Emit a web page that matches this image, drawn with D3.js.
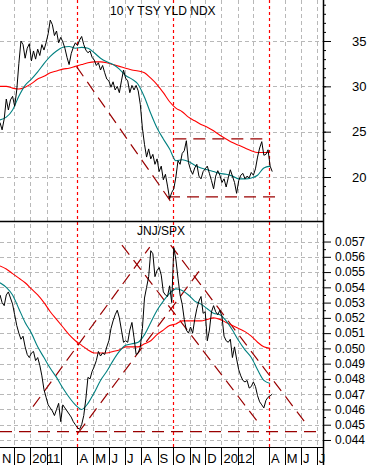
<!DOCTYPE html>
<html>
<head>
<meta charset="utf-8">
<script src="https://cdnjs.cloudflare.com/ajax/libs/d3/7.8.5/d3.min.js"></script>
<style>
body { margin: 0; background: #fff; }
text { font-family: "Liberation Sans", Arial, sans-serif; fill: #000; }
</style>
</head>
<body>
<div id="chart"></div>
<script>
// sampling: closes every 4 days, moving averages every 12 days, from startDate
var startDate = "2010-11-04";
var priceStepDays = 4;
var maStepDays = 12;

// 10 Y TSY YLD NDX
var yldClose = [26.0,25.2,26.4,28.6,27.4,28.5,28.9,27.8,29.6,32.5,
  35.0,34.6,33.1,34.2,34.7,32.8,33.9,33.0,34.1,33.4,
  34.6,34.0,34.8,35.8,37.3,36.8,35.6,36.1,34.8,35.4,
  34.9,34.2,33.2,32.4,33.6,34.3,34.8,34.5,35.1,35.5,
  34.6,34.0,33.7,33.9,33.2,32.9,32.3,32.6,31.8,32.3,
  31.5,30.8,30.6,29.9,30.5,29.6,30.0,29.3,30.6,31.8,
  30.9,30.6,29.3,30.1,29.6,30.1,29.5,28.0,25.4,23.6,
  22.2,23.1,22.0,22.5,21.4,22.0,20.6,21.2,19.7,20.3,
  19.0,17.6,18.3,18.7,20.0,21.8,21.4,22.6,22.9,24.0,
  21.6,20.8,20.3,21.0,21.4,20.1,19.8,20.6,20.9,21.2,
  20.4,19.6,18.7,20.1,20.7,20.2,19.4,19.8,18.9,19.9,
  20.8,20.1,19.4,18.2,19.6,20.2,20.4,19.8,20.1,19.9,
  20.5,20.2,20.9,22.2,23.2,23.9,22.4,22.5,23.0,21.2,20.6];
var yldMa50 = [26.3,26.6,27.4,28.9,30.1,30.8,31.6,32.5,33.3,33.9,
  34.3,34.4,34.2,34.3,34.2,33.7,33.1,32.7,32.4,31.9,
  31.2,30.8,30.2,28.8,27.0,25.4,24.2,23.1,21.8,21.9,
  21.7,21.3,21.0,20.8,20.6,20.4,20.3,20.1,19.8,19.8,
  19.9,20.2,21.0,21.2];
var yldMa200 = [30.0,30.0,29.8,29.7,29.9,30.3,30.8,31.1,31.5,31.7,
  31.9,32.0,32.2,32.4,32.6,32.7,32.7,32.6,32.4,32.2,
  32.0,31.8,31.7,31.5,30.9,30.2,29.3,28.3,27.6,27.2,
  26.6,26.2,25.8,25.5,25.1,24.6,24.2,23.8,23.5,23.2,
  22.9,22.7,22.7,22.7];

// JNJ/SPX
var jnjClose = [0.0535,0.0530,0.0528,0.0535,0.0537,0.0533,0.0529,0.0522,0.0515,0.0510,
  0.0506,0.0508,0.0501,0.0496,0.0494,0.0497,0.0498,0.0492,0.0494,0.0489,
  0.0482,0.0473,0.0468,0.0463,0.0461,0.0459,0.0456,0.0460,0.0464,0.0452,
  0.0463,0.0461,0.0459,0.0457,0.0455,0.0452,0.0450,0.0448,0.0447,0.0450,
  0.0456,0.0467,0.0481,0.0480,0.0485,0.0488,0.0492,0.0498,0.0495,0.0497,
  0.0496,0.0501,0.0505,0.0513,0.0518,0.0522,0.0525,0.0520,0.0512,0.0504,
  0.0505,0.0504,0.0512,0.0517,0.0507,0.0496,0.0497,0.0501,0.0513,0.0533,
  0.0540,0.0547,0.0564,0.0562,0.0547,0.0551,0.0553,0.0548,0.0537,0.0535,
  0.0534,0.0541,0.0530,0.0566,0.0558,0.0546,0.0535,0.0529,0.0519,0.0512,
  0.0510,0.0514,0.0510,0.0519,0.0526,0.0531,0.0534,0.0523,0.0524,0.0505,
  0.0512,0.0524,0.0528,0.0524,0.0522,0.0525,0.0521,0.0508,0.0505,0.0504,
  0.0506,0.0494,0.0501,0.0493,0.0486,0.0482,0.0479,0.0478,0.0479,0.0474,
  0.0475,0.0478,0.0475,0.0469,0.0465,0.0463,0.0461,0.0466,0.0468,0.0469,0.0470];
var jnjMa50 = [0.0543,0.0540,0.0535,0.0526,0.0517,0.0510,0.0501,0.0494,0.0487,0.0481,
  0.0474,0.0468,0.0463,0.0460,0.0464,0.0471,0.0479,0.0485,0.0492,0.0498,
  0.0502,0.0503,0.0504,0.0509,0.0517,0.0525,0.0531,0.0536,0.0539,0.0538,
  0.0535,0.0531,0.0529,0.0526,0.0523,0.0522,0.0518,0.0512,0.0505,0.0499,
  0.0494,0.0486,0.0479,0.0477];
var jnjMa200 = [0.0554,0.0552,0.0549,0.0546,0.0543,0.0539,0.0535,0.0530,0.0524,0.0519,
  0.0514,0.0509,0.0505,0.0502,0.0499,0.0497,0.0497,0.0497,0.0498,0.0499,
  0.0501,0.0501,0.0501,0.0503,0.0505,0.0509,0.0512,0.0515,0.0516,0.0518,
  0.0518,0.0518,0.0518,0.0519,0.0520,0.0519,0.0517,0.0515,0.0513,0.0511,
  0.0508,0.0504,0.0501,0.0500];

// hand-drawn annotations
var markerDates = ["2011-04-01", "2011-10-01", "2012-04-01"];
var yldTrendLines = [
  [["2011-03-30", 32.2], ["2011-10-01", 16.9]],
  [["2011-10-03", 24.2], ["2012-03-28", 24.2]],
  [["2011-09-21", 17.8], ["2012-04-25", 17.8]]
];
var jnjTrendLines = [
  [["2010-11-04", 0.04455], ["2012-07-13", 0.04455]],
  [["2011-01-06", 0.04618], ["2011-08-17", 0.05664]],
  [["2011-04-02", 0.04444], ["2011-11-21", 0.05513]],
  [["2011-09-26", 0.05677], ["2012-06-15", 0.04487]],
  [["2011-06-25", 0.05677], ["2012-03-15", 0.04498]]
];

var yldTicks = [20, 25, 30, 35];
var jnjTicks = [0.044, 0.045, 0.046, 0.047, 0.048, 0.049, 0.050, 0.051, 0.052, 0.053, 0.054, 0.055, 0.056, 0.057];
var monthLabels = ["N","D","2011","","","A","M","J","J","A","S","O","N","D","2012","","","A","M","J","J"];

var width = 370, height = 465;
var plotW = 323;
var topPanel = [0, 221];
var botPanel = [222, 447];

var parse = d3.timeParse("%Y-%m-%d");
var t0 = parse(startDate);

var x = d3.scaleTime()
  .domain([t0, parse("2012-07-13")])
  .range([0, plotW]);
var yTop = d3.scaleLinear().domain([15.15, 39.52]).range([topPanel[1], topPanel[0]]);
var yBot = d3.scaleLinear().domain([0.04354, 0.05828]).range([botPanel[1], botPanel[0]]);

function series(vals, step) {
  return vals.map(function(v, i) { return { date: d3.timeDay.offset(t0, i * step), v: v }; });
}
function px(d) { return Math.round(x(d)) + 0.5; }

var svg = d3.select("#chart").append("svg")
  .attr("width", width)
  .attr("height", height)
  .style("display", "block");

svg.append("rect").attr("width", width).attr("height", height).attr("fill", "#fff");

var defs = svg.append("defs");
defs.append("clipPath").attr("id", "clipTop").append("rect")
  .attr("x", 0).attr("y", topPanel[0]).attr("width", plotW).attr("height", topPanel[1] - topPanel[0]);
defs.append("clipPath").attr("id", "clipBot").append("rect")
  .attr("x", 0).attr("y", botPanel[0]).attr("width", plotW).attr("height", botPanel[1] - botPanel[0]);

// month grid (skipping months that carry a red marker)
var months = d3.timeMonth.range(parse("2010-11-01"), parse("2012-08-01"));
var markers = markerDates.map(parse);
var markerKeys = markers.map(function(d) { return +d; });
svg.append("g").selectAll("line")
  .data(months.filter(function(d) { return x(d) > 0 && markerKeys.indexOf(+d) < 0; }))
  .enter().append("line")
  .attr("x1", px).attr("x2", px)
  .attr("y1", 0).attr("y2", botPanel[1])
  .attr("stroke", "#b8b8b8")
  .attr("stroke-dasharray", "4,3");

svg.append("g").selectAll("line")
  .data(yldTicks)
  .enter().append("line")
  .attr("x1", 0).attr("x2", plotW)
  .attr("y1", function(d) { return Math.round(yTop(d)) + 0.5; })
  .attr("y2", function(d) { return Math.round(yTop(d)) + 0.5; })
  .attr("stroke", "#b8b8b8")
  .attr("stroke-dasharray", "4,3");

svg.append("g").selectAll("line")
  .data(jnjTicks)
  .enter().append("line")
  .attr("x1", 0).attr("x2", plotW)
  .attr("y1", function(d) { return Math.round(yBot(d)) + 0.5; })
  .attr("y2", function(d) { return Math.round(yBot(d)) + 0.5; })
  .attr("stroke", "#b8b8b8")
  .attr("stroke-dasharray", "4,3");

// red dotted markers
svg.append("g").selectAll("line")
  .data(markers)
  .enter().append("line")
  .attr("x1", px).attr("x2", px)
  .attr("y1", 0).attr("y2", botPanel[1])
  .attr("stroke", "#ff0000")
  .attr("stroke-width", 1.2)
  .attr("stroke-dasharray", "3,3");

function drawPanel(clip, y, close, ma50, ma200, trends) {
  var g = svg.append("g").attr("clip-path", "url(#" + clip + ")");
  var trendLine = d3.line()
    .x(function(d) { return x(parse(d[0])); })
    .y(function(d) { return y(d[1]); });
  g.selectAll(".trend")
    .data(trends)
    .enter().append("path")
    .attr("d", trendLine)
    .attr("fill", "none")
    .attr("stroke", "#990000")
    .attr("stroke-width", 1.2)
    .attr("stroke-dasharray", "12,7");

  var smooth = d3.line()
    .x(function(d) { return x(d.date); })
    .y(function(d) { return y(d.v); })
    .curve(d3.curveMonotoneX);
  var raw = d3.line()
    .x(function(d) { return x(d.date); })
    .y(function(d) { return y(d.v); });

  g.append("path").attr("d", smooth(series(ma200, maStepDays)))
    .attr("fill", "none").attr("stroke", "#ff0000").attr("stroke-width", 1.1);
  g.append("path").attr("d", smooth(series(ma50, maStepDays)))
    .attr("fill", "none").attr("stroke", "#008080").attr("stroke-width", 1.1);
  g.append("path").attr("d", raw(series(close, priceStepDays)))
    .attr("fill", "none").attr("stroke", "#000").attr("stroke-width", 1);
}

drawPanel("clipTop", yTop, yldClose, yldMa50, yldMa200, yldTrendLines);
drawPanel("clipBot", yBot, jnjClose, jnjMa50, jnjMa200, jnjTrendLines);

// titles
svg.append("text").attr("x", 110).attr("y", 15).attr("font-size", 12).text("10 Y TSY YLD NDX");
svg.append("text").attr("x", 137).attr("y", 235).attr("font-size", 12).text("JNJ/SPX");

// right axes
function cleanAxis(g) { g.select(".domain").remove(); }

svg.append("g").attr("transform", "translate(" + plotW + ",0)")
  .call(d3.axisRight(yTop).tickValues(d3.range(16, 40)).tickSize(3).tickFormat(""))
  .call(cleanAxis);
svg.append("g").attr("transform", "translate(" + plotW + ",0)")
  .call(d3.axisRight(yTop).tickValues(yldTicks).tickSize(8).tickPadding(21))
  .call(cleanAxis)
  .selectAll("text").attr("font-size", 13).style("font-family", "'Liberation Sans', Arial, sans-serif");

svg.append("g").attr("transform", "translate(" + plotW + ",0)")
  .call(d3.axisRight(yBot).tickValues(jnjTicks.map(function(d) { return d + 0.0005; }).filter(function(d) { return d < 0.058; })).tickSize(3).tickFormat(""))
  .call(cleanAxis);
svg.append("g").attr("transform", "translate(" + plotW + ",0)")
  .call(d3.axisRight(yBot).tickValues(jnjTicks).tickSize(8).tickPadding(4).tickFormat(d3.format(".3f")))
  .call(cleanAxis)
  .selectAll("text").attr("font-size", 12).style("font-family", "'Liberation Sans', Arial, sans-serif");

svg.selectAll(".tick line").attr("stroke", "#000");

// frame lines
svg.append("line").attr("x1", plotW + 0.5).attr("x2", plotW + 0.5).attr("y1", 0).attr("y2", height)
  .attr("stroke", "#000").attr("stroke-width", 1.5);
svg.append("line").attr("x1", 0).attr("x2", plotW).attr("y1", topPanel[1] + 0.5).attr("y2", topPanel[1] + 0.5)
  .attr("stroke", "#000").attr("stroke-width", 1.5);
svg.append("line").attr("x1", 0).attr("x2", plotW).attr("y1", botPanel[1] + 0.5).attr("y2", botPanel[1] + 0.5)
  .attr("stroke", "#000").attr("stroke-width", 1);

// month axis
var xg = svg.append("g");
xg.selectAll("line")
  .data(months.filter(function(d) { return x(d) > 0; }))
  .enter().append("line")
  .attr("x1", px).attr("x2", px)
  .attr("y1", botPanel[1]).attr("y2", height)
  .attr("stroke", "#000");
xg.selectAll("text")
  .data(months)
  .enter().append("text")
  .attr("x", function(d) { return Math.max(0, x(d)) + 2; })
  .attr("y", 463)
  .attr("font-size", 13)
  .text(function(d, i) { return monthLabels[i]; });
</script>
</body>
</html>
